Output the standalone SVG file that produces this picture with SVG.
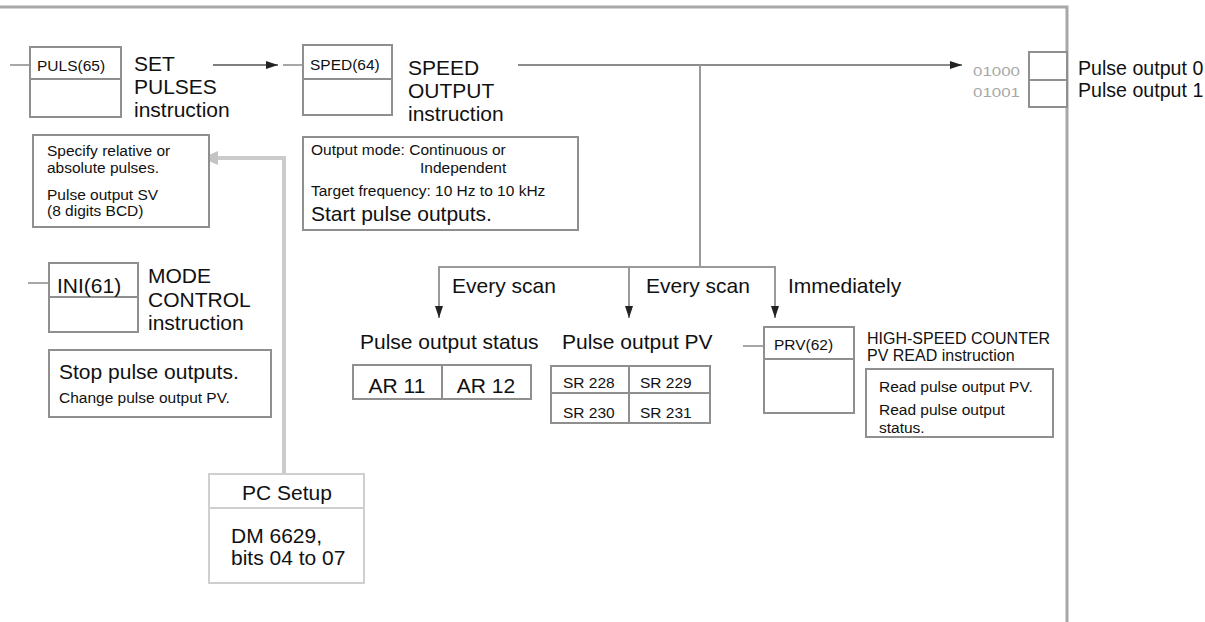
<svg xmlns="http://www.w3.org/2000/svg" width="1205" height="622" viewBox="0 0 1205 622">
<style>
text{font-family:"Liberation Sans",Arial,Helvetica,sans-serif;fill:#111}
.big{font-size:21px}
.sm{font-size:15.5px}
.box{fill:#fff;stroke:#8f8f8f;stroke-width:2}
.div{stroke:#8f8f8f;stroke-width:2}
.ln{stroke:#9a9a9a;stroke-width:2;fill:none}
.lead{stroke:#8a8a8a;stroke-width:1.5}
.addr{font-size:13px;fill:#a8a8a8}
.setup{fill:none;stroke:#cbcbcb;stroke-width:4}
</style>
<defs>
<marker id="ah" viewBox="0 0 12 8" refX="12" refY="4" markerWidth="12" markerHeight="8" markerUnits="userSpaceOnUse" orient="auto">
<path d="M0,0 L12,4 L0,8 z" fill="#222"/>
</marker>
<marker id="ahg" viewBox="0 0 16 14" refX="16" refY="7" markerWidth="16" markerHeight="14" markerUnits="userSpaceOnUse" orient="auto">
<path d="M0,0 L16,7 L0,14 z" fill="#c4c4c4"/>
</marker>
</defs>

<g id="frame">
<path d="M0,7 H1067 V622" fill="none" stroke="#a8a8a8" stroke-width="3"/>
</g>

<g id="connectors">
<line class="lead" x1="10" y1="65" x2="30" y2="65"/>
<line x1="213" y1="65" x2="278" y2="65" stroke="#555" stroke-width="1.5" marker-end="url(#ah)"/>
<line class="lead" x1="283" y1="65" x2="303" y2="65"/>
<line x1="518" y1="65" x2="962" y2="65" stroke="#666" stroke-width="1.5" marker-end="url(#ah)"/>
<path class="ln" d="M700,65 V267"/>
<path class="ln" d="M439,267 H775"/>
<line class="ln" x1="439" y1="266" x2="439" y2="318" marker-end="url(#ah)"/>
<line class="ln" x1="629" y1="266" x2="629" y2="318" marker-end="url(#ah)"/>
<line class="ln" x1="775" y1="266" x2="775" y2="318" marker-end="url(#ah)"/>
<line class="lead" x1="28" y1="283" x2="49" y2="283"/>
<line class="lead" x1="743" y1="346" x2="764" y2="346"/>
<path class="setup" d="M284,474 V158 H202" marker-end="url(#ahg)"/>
<text x="452" y="293" class="big">Every scan</text>
<text x="646" y="293" class="big">Every scan</text>
<text x="788" y="293" class="big">Immediately</text>
</g>

<g id="puls">
<rect class="box" x="30" y="47" width="91" height="70"/>
<line class="div" x1="30" y1="79" x2="121" y2="79"/>
<text x="37" y="71" class="sm">PULS(65)</text>
<text x="134" y="71" class="big">SET</text>
<text x="134" y="94" class="big">PULSES</text>
<text x="134" y="117" class="big">instruction</text>
</g>

<g id="puls-info">
<rect class="box" x="33" y="135" width="176" height="92"/>
<text x="47" y="156" class="sm">Specify relative or</text>
<text x="47" y="173" class="sm">absolute pulses.</text>
<text x="47" y="200" class="sm">Pulse output SV</text>
<text x="47" y="216" class="sm">(8 digits BCD)</text>
</g>

<g id="sped">
<rect class="box" x="303" y="45" width="89" height="70"/>
<line class="div" x1="303" y1="79" x2="392" y2="79"/>
<text x="310" y="70" class="sm">SPED(64)</text>
<text x="408" y="75" class="big">SPEED</text>
<text x="408" y="98" class="big">OUTPUT</text>
<text x="408" y="121" class="big">instruction</text>
</g>

<g id="sped-info">
<rect class="box" x="303" y="137" width="275" height="93"/>
<text x="311" y="155" class="sm">Output mode: Continuous or</text>
<text x="420" y="173" class="sm">Independent</text>
<text x="311" y="196" class="sm">Target frequency: 10 Hz to 10 kHz</text>
<text x="311" y="221" class="big">Start pulse outputs.</text>
</g>

<g id="outputs">
<rect class="box" x="1029" y="52" width="38" height="55"/>
<line class="div" x1="1029" y1="80" x2="1067" y2="80"/>
<text x="973" y="76" class="addr" textLength="47" lengthAdjust="spacingAndGlyphs">01000</text>
<text x="973" y="97" class="addr" textLength="47" lengthAdjust="spacingAndGlyphs">01001</text>
<text x="1078" y="75" style="font-size:19.6px">Pulse output 0</text>
<text x="1078" y="97" style="font-size:19.6px">Pulse output 1</text>
</g>

<g id="ini">
<rect class="box" x="49" y="263" width="89" height="69"/>
<line class="div" x1="49" y1="297" x2="138" y2="297"/>
<text x="57" y="293" class="big">INI(61)</text>
<text x="148" y="283" class="big">MODE</text>
<text x="148" y="307" class="big">CONTROL</text>
<text x="148" y="330" class="big">instruction</text>
</g>

<g id="ini-info">
<rect class="box" x="49" y="350" width="222" height="67"/>
<text x="59" y="379" class="big">Stop pulse outputs.</text>
<text x="59" y="403" class="sm">Change pulse output PV.</text>
</g>

<g id="pc-setup">
<rect class="box" x="209" y="474" width="155" height="109" style="stroke:#cfcfcf"/>
<line class="div" x1="209" y1="508" x2="364" y2="508" style="stroke:#cfcfcf"/>
<text x="287" y="500" class="big" text-anchor="middle">PC Setup</text>
<text x="231" y="543" class="big">DM 6629,</text>
<text x="231" y="565" class="big">bits 04 to 07</text>
</g>

<g id="status">
<text x="360" y="349" class="big">Pulse output status</text>
<rect class="box" x="353" y="365" width="178" height="34"/>
<line class="div" x1="442" y1="365" x2="442" y2="399"/>
<text x="397" y="393" class="big" text-anchor="middle">AR 11</text>
<text x="486" y="393" class="big" text-anchor="middle">AR 12</text>
</g>

<g id="pv">
<text x="562" y="349" class="big">Pulse output PV</text>
<rect class="box" x="551" y="366" width="159" height="57"/>
<line class="div" x1="551" y1="393" x2="710" y2="393"/>
<line class="div" x1="629" y1="366" x2="629" y2="423"/>
<text x="563" y="388" class="sm">SR 228</text>
<text x="640" y="388" class="sm">SR 229</text>
<text x="563" y="418" class="sm">SR 230</text>
<text x="640" y="418" class="sm">SR 231</text>
</g>

<g id="prv">
<rect class="box" x="764" y="327" width="90" height="86"/>
<line class="div" x1="764" y1="359" x2="854" y2="359"/>
<text x="774" y="350" class="sm">PRV(62)</text>
<text x="867" y="344" style="font-size:16px">HIGH-SPEED COUNTER</text>
<text x="867" y="361" style="font-size:16px">PV READ instruction</text>
</g>

<g id="prv-info">
<rect class="box" x="866" y="369" width="187" height="68"/>
<text x="879" y="392" class="sm">Read pulse output PV.</text>
<text x="879" y="415" class="sm">Read pulse output</text>
<text x="879" y="433" class="sm">status.</text>
</g>
</svg>
